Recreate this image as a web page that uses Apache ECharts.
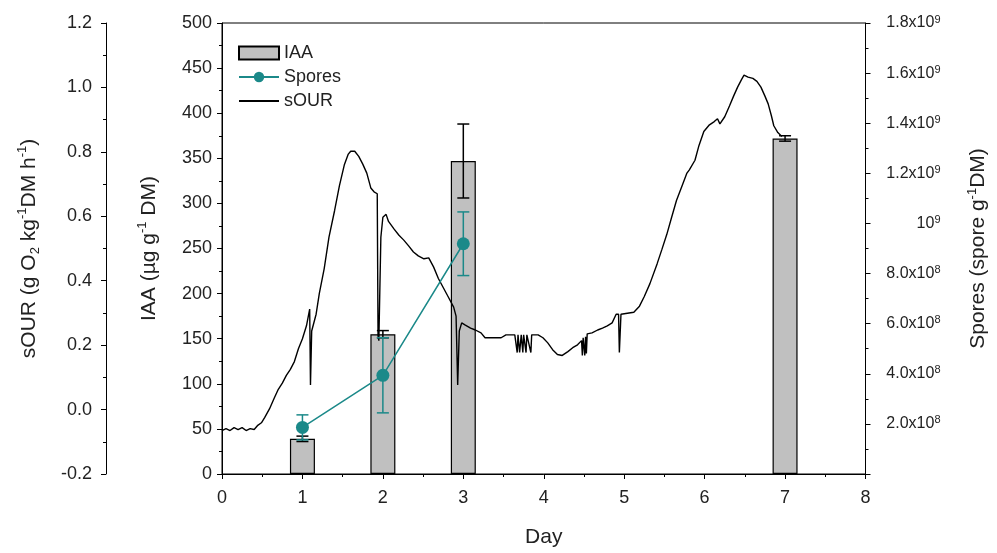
<!DOCTYPE html>
<html>
<head>
<meta charset="utf-8">
<script src="https://cdn.jsdelivr.net/npm/echarts@6/dist/echarts.min.js"></script>
<style>html,body{margin:0;padding:0;background:#fff;overflow:hidden}#c{width:997px;height:553px}</style>
</head>
<body>
<div id="c"></div>
<script>
const iaaDays = [1, 2, 3, 7];
const iaaValues = [39, 155, 347, 372];
const iaaErrors = [3, 4, 41, 3];

const sporeDays = [1, 2, 3];
const sporeValues = [1.86e8, 3.94e8, 9.19e8];
const sporeErrors = [5.0e7, 1.5e8, 1.27e8];

const sporeTickLabels = ['', '2.0x10{s|8}', '4.0x10{s|8}', '6.0x10{s|8}', '8.0x10{s|8}', '10{s|9}',
  '1.2x10{s|9}', '1.4x10{s|9}', '1.6x10{s|9}', '1.8x10{s|9}'];

const sourDays = [0.00,0.05,0.10,0.15,0.20,0.25,0.30,0.35,0.40,0.44,0.49,0.53,0.59,0.65,0.70,0.75,0.80,0.85,0.90,0.95,1.00,1.05,1.09,1.10,1.115,1.17,1.21,1.27,1.33,1.40,1.46,1.52,1.57,1.60,1.65,1.70,1.75,1.80,1.85,1.89,1.93,1.94,1.95,1.975,2.00,2.04,2.07,2.14,2.20,2.26,2.32,2.38,2.44,2.51,2.57,2.63,2.69,2.75,2.81,2.88,2.91,2.93,2.95,2.98,3.02,3.09,3.15,3.22,3.27,3.37,3.47,3.53,3.64,3.67,3.68,3.70,3.72,3.74,3.75,3.78,3.79,3.84,3.85,3.93,3.99,4.05,4.11,4.17,4.23,4.30,4.36,4.42,4.47,4.48,4.49,4.51,4.52,4.53,4.54,4.60,4.67,4.73,4.79,4.85,4.90,4.93,4.94,4.96,5.04,5.12,5.19,5.25,5.32,5.41,5.47,5.53,5.59,5.65,5.72,5.78,5.81,5.88,5.93,5.99,6.06,6.12,6.16,6.19,6.25,6.31,6.36,6.41,6.46,6.49,6.54,6.60,6.65,6.70,6.75,6.79,6.83,6.86,6.91,6.96];
const sourValues = [-0.065,-0.059,-0.065,-0.056,-0.062,-0.056,-0.065,-0.059,-0.062,-0.050,-0.041,-0.025,0.002,0.036,0.063,0.082,0.106,0.125,0.149,0.189,0.220,0.260,0.312,0.076,0.244,0.296,0.361,0.437,0.535,0.618,0.695,0.759,0.793,0.802,0.802,0.786,0.762,0.734,0.688,0.676,0.670,0.229,0.214,0.535,0.597,0.606,0.584,0.560,0.541,0.526,0.508,0.489,0.477,0.468,0.471,0.443,0.407,0.379,0.351,0.318,0.290,0.076,0.244,0.269,0.263,0.253,0.247,0.238,0.223,0.223,0.223,0.232,0.232,0.177,0.232,0.177,0.232,0.177,0.232,0.177,0.232,0.177,0.232,0.232,0.223,0.207,0.186,0.171,0.168,0.180,0.192,0.201,0.214,0.168,0.223,0.168,0.226,0.174,0.235,0.238,0.247,0.253,0.260,0.269,0.296,0.296,0.177,0.296,0.299,0.302,0.321,0.351,0.391,0.453,0.498,0.544,0.597,0.649,0.695,0.734,0.744,0.774,0.820,0.863,0.884,0.894,0.903,0.887,0.909,0.943,0.973,1.001,1.025,1.038,1.032,1.028,1.019,1.001,0.973,0.949,0.912,0.881,0.860,0.848];

const TEAL = '#1b8989';
const TXT = '#222';
const FONT = 'Liberation Sans, Arial, sans-serif';

const chart = echarts.init(document.getElementById('c'), null, {renderer: 'canvas'});

function errRender(color, capHalf) {
  return function (params, api) {
    const x = api.value(0), y = api.value(1), e = api.value(2);
    const top = api.coord([x, y + e]);
    const bot = api.coord([x, y - e]);
    const st = {stroke: color, lineWidth: 1.5};
    return {
      type: 'group',
      children: [
        {type: 'line', shape: {x1: top[0], y1: top[1], x2: bot[0], y2: bot[1]}, style: st},
        {type: 'line', shape: {x1: top[0] - capHalf, y1: top[1], x2: top[0] + capHalf, y2: top[1]}, style: st},
        {type: 'line', shape: {x1: bot[0] - capHalf, y1: bot[1], x2: bot[0] + capHalf, y2: bot[1]}, style: st}
      ]
    };
  };
}

const nameRich = {
  b: {fontSize: 21, color: TXT, fontFamily: FONT, lineHeight: 26, verticalAlign: 'middle'},
  s: {fontSize: 13, color: TXT, fontFamily: FONT, lineHeight: 26, verticalAlign: 'top'},
  d: {fontSize: 13, color: TXT, fontFamily: FONT, lineHeight: 26, verticalAlign: 'bottom'}
};

const axisCommon = {
  axisLine: {show: true, lineStyle: {color: '#000', width: 1}},
  axisTick: {show: true, inside: false, length: 5, lineStyle: {color: '#000'}},
  minorTick: {show: true, splitNumber: 2, length: 3, lineStyle: {color: '#000'}},
  splitLine: {show: false}
};

const option = {
  animation: false,
  backgroundColor: '#fff',
  grid: {left: 222, right: 127, top: 23, bottom: 73, show: true, borderColor: '#000', borderWidth: 1, backgroundColor: 'transparent'},
  legend: {
    data: [{name: 'IAA', icon: 'rect'}, {name: 'Spores'}, {name: 'sOUR', itemStyle: {opacity: 0}}],
    orient: 'vertical',
    left: 233, top: 39,
    itemWidth: 40, itemHeight: 13, itemGap: 6,
    textStyle: {fontSize: 18, color: TXT, fontFamily: FONT, lineHeight: 18}
  },
  xAxis: Object.assign({}, axisCommon, {
    type: 'value', min: 0, max: 8, interval: 1,
    name: 'Day', nameLocation: 'middle', nameGap: 53,
    nameTextStyle: {fontSize: 21, color: TXT, fontFamily: FONT},
    axisLabel: {color: TXT, fontSize: 18, fontFamily: FONT, margin: 15}
  }),
  yAxis: [
    Object.assign({}, axisCommon, {
      type: 'value', min: 0, max: 500, interval: 50, position: 'left',
      name: '{b|IAA (µg g}{s|-1}{b| DM)}', nameLocation: 'middle', nameGap: 60, nameRotate: 90,
      nameTextStyle: {rich: nameRich},
      axisLabel: {color: TXT, fontSize: 18, fontFamily: FONT, margin: 10}
    }),
    Object.assign({}, axisCommon, {
      type: 'value', min: -0.2, max: 1.2, interval: 0.2, position: 'left', offset: 116,
      name: '{b|sOUR (g O}{d|2}{b| kg}{s|-1}{b|DM h}{s|-1}{b|)}', nameLocation: 'middle', nameGap: 64, nameRotate: 90,
      nameTextStyle: {rich: nameRich},
      axisLabel: {color: TXT, fontSize: 18, fontFamily: FONT, margin: 14, formatter: v => v.toFixed(1)}
    }),
    Object.assign({}, axisCommon, {
      type: 'value', min: 0, max: 1.8e9, interval: 2e8, position: 'right',
      name: '{b|Spores (spore g}{s|-1}{b|DM)}', nameLocation: 'middle', nameGap: 100, nameRotate: 90,
      nameTextStyle: {rich: nameRich},
      axisLabel: {
        color: TXT, fontSize: 16, fontFamily: FONT, margin: 75, align: 'right',
        formatter: v => sporeTickLabels[Math.round(v / 2e8)],
        rich: {s: {fontSize: 11, color: TXT, fontFamily: FONT, verticalAlign: 'top', lineHeight: 18}}
      }
    })
  ],
  series: [
    {
      name: 'IAA', type: 'bar', yAxisIndex: 0, barWidth: 25,
      itemStyle: {color: '#c0c0c0', borderColor: '#000', borderWidth: 1.2},
      data: iaaDays.map((d, i) => [d, iaaValues[i]]),
      z: 2
    },
    {
      name: 'IAA err', type: 'custom', yAxisIndex: 0,
      renderItem: errRender('#000', 6),
      data: iaaDays.map((d, i) => [d, iaaValues[i], iaaErrors[i]]),
      z: 3
    },
    {
      name: 'sOUR', type: 'line', yAxisIndex: 1, symbol: 'none',
      lineStyle: {color: '#000', width: 1.4}, itemStyle: {color: '#000'},
      data: sourDays.map((d, i) => [d, sourValues[i]]),
      z: 4
    },
    {
      name: 'Spores err', type: 'custom', yAxisIndex: 2,
      renderItem: errRender(TEAL, 6),
      data: sporeDays.map((d, i) => [d, sporeValues[i], sporeErrors[i]]),
      z: 5
    },
    {
      name: 'Spores', type: 'line', yAxisIndex: 2, symbol: 'circle', symbolSize: 13,
      lineStyle: {color: TEAL, width: 1.5}, itemStyle: {color: TEAL},
      data: sporeDays.map((d, i) => [d, sporeValues[i]]),
      z: 6
    }
  ]
};
chart.setOption(option);
</script>
</body>
</html>
